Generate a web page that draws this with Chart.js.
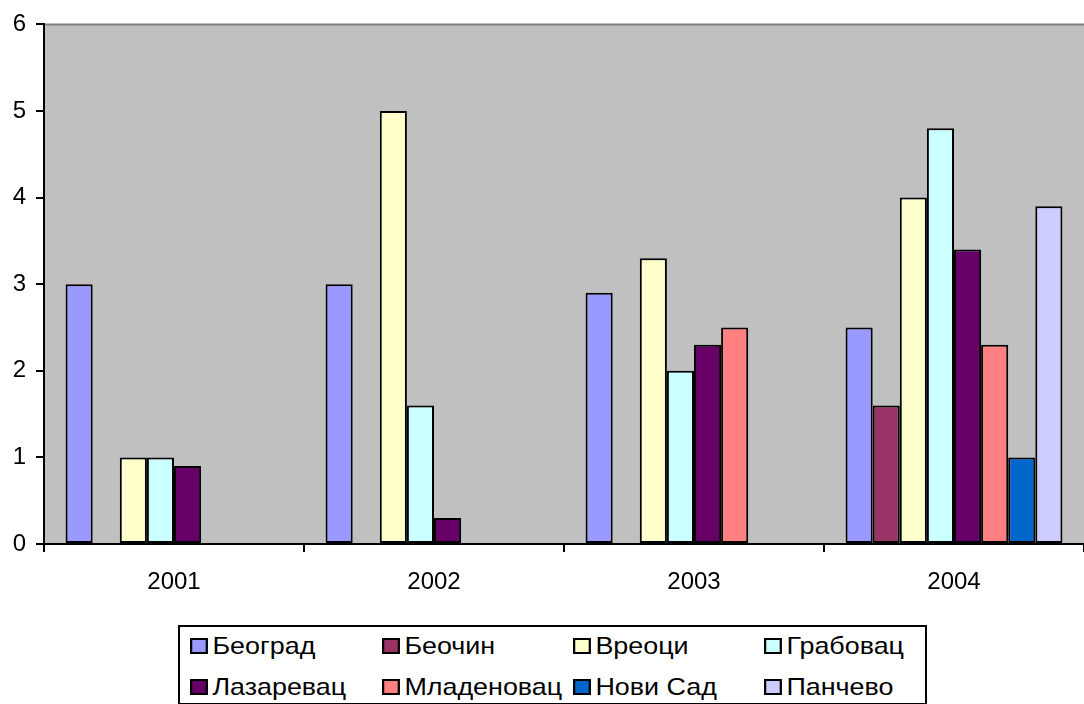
<!DOCTYPE html>
<html>
<head>
<meta charset="utf-8">
<script src="https://cdn.jsdelivr.net/npm/chart.js@4"></script>
<style>
  html, body { margin: 0; padding: 0; background: #fff; }
  #wrap { position: relative; width: 1084px; height: 704px; }
  #legend {
    position: absolute; left: 178px; top: 625px; width: 749px; height: 80px;
    border: 2px solid #000; box-sizing: border-box; background: #fff;
    font-family: "Liberation Sans", Arial, sans-serif; font-size: 24px; color: #000;
  }
  .item { position: absolute; white-space: nowrap; line-height: 28px; transform: scaleX(1.12); transform-origin: left center; }
  .sw { display: inline-block; width: 12px; height: 12px; border: 2px solid #000; margin-right: 4px; vertical-align: 0px; }
</style>
</head>
<body>
<div id="wrap">
  <canvas id="chart" width="1084" height="704"></canvas>
  <div id="legend"></div>
</div>
<script>
const years = ["2001", "2002", "2003", "2004"];

const beograd = [3, 3, 2.9, 2.5];
const beocin = [null, null, null, 1.6];
const vreoci = [1, 5, 3.3, 4];
const grabovac = [1, 1.6, 2, 4.8];
const lazarevac = [0.9, 0.3, 2.3, 3.4];
const mladenovac = [null, null, 2.5, 2.3];
const noviSad = [null, null, null, 1];
const pancevo = [null, null, null, 3.9];

const names = ["Београд", "Беочин", "Вреоци", "Грабовац", "Лазаревац", "Младеновац", "Нови Сад", "Панчево"];
const colors = ["#9999FF", "#993366", "#FFFFCC", "#CCFFFF", "#660066", "#FF8080", "#0066CC", "#CCCCFF"];
const series = [beograd, beocin, vreoci, grabovac, lazarevac, mladenovac, noviSad, pancevo];

// legend layout (4 columns x 2 rows), px inside the legend box
const legendCols = [10, 202, 393, 584];
const legendRows = [5, 46];

const plotBg = {
    id: "plotBg",
    beforeDraw(chart) {
        const { ctx, chartArea: a } = chart;
        ctx.save();
        ctx.fillStyle = "#C0C0C0";
        ctx.fillRect(a.left, a.top, a.right - a.left, a.bottom - a.top);
        ctx.strokeStyle = "#808080";
        ctx.lineWidth = 2;
        ctx.beginPath();
        ctx.moveTo(a.left, a.top);
        ctx.lineTo(a.right, a.top);
        ctx.stroke();
        ctx.restore();
    }
};

const datasets = series.map((d, i) => ({
    label: names[i],
    data: d,
    backgroundColor: colors[i],
    borderColor: "#000",
    borderWidth: 2,
    borderSkipped: false,
    categoryPercentage: 0.834,
    barPercentage: 1
}));

const config = {
    type: "bar",
    data: { labels: years, datasets },
    plugins: [plotBg],
    options: {
        responsive: false,
        animation: false,
        layout: { padding: { top: 20, right: 0, left: 0, bottom: 0 } },
        plugins: { legend: { display: false }, tooltip: { enabled: false } },
        scales: {
            x: {
                grid: { offset: true, drawOnChartArea: false, drawTicks: true, tickLength: 8, color: "#000", lineWidth: 2 },
                border: { display: true, color: "#000", width: 2 },
                ticks: { color: "#000", padding: 16, font: { family: "Liberation Sans", size: 24 } },
                afterFit(scale) { scale.height = 160; }
            },
            y: {
                min: 0, max: 6,
                grid: { drawOnChartArea: false, drawTicks: true, tickLength: 8, color: "#000", lineWidth: 2 },
                border: { display: true, color: "#000", width: 2 },
                ticks: { stepSize: 1, color: "#000", padding: 10, font: { family: "Liberation Sans", size: 24 } },
                afterFit(scale) { scale.width = 44; }
            }
        }
    }
};

new Chart(document.getElementById("chart"), config);

const legend = document.getElementById("legend");
names.forEach((n, i) => {
    const el = document.createElement("div");
    el.className = "item";
    el.style.left = legendCols[i % 4] + "px";
    el.style.top = legendRows[Math.floor(i / 4)] + "px";
    el.innerHTML = `<span class="sw" style="background:${colors[i]}"></span>${n}`;
    legend.appendChild(el);
});
</script>
</body>
</html>
